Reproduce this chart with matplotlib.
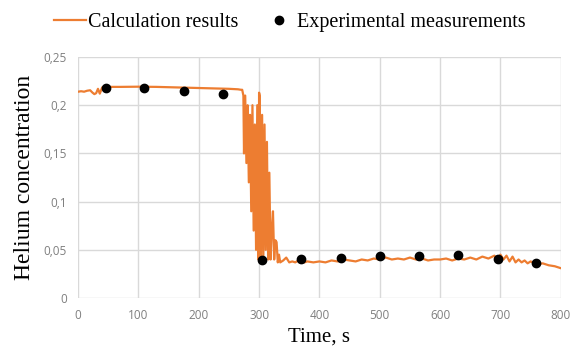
import matplotlib
matplotlib.use('Agg')
import matplotlib.pyplot as plt

# calculated helium concentration
calc_time = [0, 5, 10, 15, 20, 24, 27, 30, 33, 36, 40, 45, 50, 70, 100, 130, 160, 190, 220, 250, 265, 270,
             272, 274, 275, 277, 279, 281, 283, 285, 287, 289, 291, 293, 295, 297, 299, 300, 301, 303, 305,
             307, 309, 311, 313, 315, 317, 319, 321, 323, 325, 327, 329, 331, 333, 335,
             340, 345, 350, 355, 360, 365, 370, 375, 380, 390, 400, 410, 420, 430, 440, 450, 460, 470,
             480, 490, 500, 510, 520, 530, 540, 550, 560, 570, 580, 590, 600, 610, 620, 630, 640, 650,
             660, 670, 680, 690, 695, 700, 705, 710, 715, 720, 725, 730, 735, 740, 745, 750, 760, 770,
             780, 790, 800]
calc_conc = [0.214, 0.2145, 0.214, 0.215, 0.2155, 0.213, 0.2115, 0.2125, 0.217, 0.212, 0.2185, 0.219, 0.219,
             0.219, 0.2192, 0.219, 0.2185, 0.218, 0.2175, 0.217, 0.2165, 0.216,
             0.216, 0.21, 0.15, 0.21, 0.14, 0.20, 0.12, 0.19, 0.09, 0.20, 0.07, 0.18, 0.05, 0.20, 0.04, 0.213,
             0.21, 0.04, 0.19, 0.04, 0.18, 0.05, 0.162, 0.04, 0.13, 0.04, 0.07, 0.09, 0.04, 0.06, 0.058,
             0.037, 0.045, 0.037,
             0.039, 0.042, 0.037, 0.038, 0.037, 0.039, 0.038, 0.037, 0.038, 0.037, 0.038, 0.037, 0.039,
             0.038, 0.040, 0.039, 0.038, 0.040, 0.039, 0.041, 0.040, 0.042, 0.040, 0.041, 0.040, 0.042,
             0.040, 0.041, 0.039, 0.040, 0.040, 0.041, 0.039, 0.041, 0.040, 0.042, 0.040, 0.043, 0.041,
             0.044, 0.039, 0.045, 0.040, 0.044, 0.038, 0.043, 0.037, 0.040, 0.037, 0.039, 0.036, 0.038,
             0.035, 0.036, 0.034, 0.033, 0.031]

# experimental measurements
exp_time = [46, 110, 176, 241, 305, 370, 436, 500, 565, 630, 696, 759]
exp_conc = [0.2175, 0.2175, 0.215, 0.212, 0.039, 0.040, 0.042, 0.044, 0.044, 0.045, 0.040, 0.036]

y_ticks = [0, 0.05, 0.1, 0.15, 0.2, 0.25]
y_labels = ['0', '0,05', '0,1', '0,15', '0,2', '0,25']
x_ticks = [0, 100, 200, 300, 400, 500, 600, 700, 800]

fig = plt.figure(figsize=(5.74, 3.54), dpi=100)
ax = fig.add_axes([0.136, 0.158, 0.841, 0.681])

ax.plot(calc_time, calc_conc, color='#ED7D31', lw=1.6, label='Calculation results', zorder=2)
ax.plot(exp_time, exp_conc, 'o', color='black', ms=6, label='Experimental measurements', zorder=3)

ax.set_xlim(0, 800)
ax.set_ylim(0, 0.25)
ax.set_xticks(x_ticks)
ax.set_yticks(y_ticks)
ax.set_yticklabels(y_labels)
ax.grid(color='#d9d9d9', lw=1)
ax.set_axisbelow(True)
for s in ax.spines.values():
    s.set_visible(False)
ax.tick_params(length=0, labelsize=8.5, labelcolor='#7f7f7f', pad=8)
for lab in ax.get_xticklabels() + ax.get_yticklabels():
    lab.set_family('Open Sans')

ax.set_xlabel('Time, s', family='Liberation Serif', fontsize=15, labelpad=4)
ax.set_ylabel('Helium concentration', family='Liberation Serif', fontsize=17, labelpad=6)

fig.legend(loc='center', bbox_to_anchor=(0.505, 0.937), ncol=2, frameon=False,
           prop={'family': 'Liberation Serif', 'size': 14.5}, handlelength=1.6,
           handletextpad=0.1, columnspacing=1.2)

fig.savefig('out.png', dpi=100)
